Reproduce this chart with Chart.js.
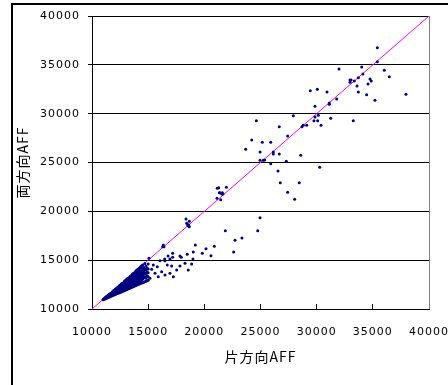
<!DOCTYPE html>
<html><head><meta charset="utf-8">
<script src="https://cdn.jsdelivr.net/npm/chart.js@4"></script>
<style>
html,body{margin:0;padding:0;background:#fff;overflow:hidden;width:448px;height:385px;}
#frame{position:absolute;left:11px;top:3px;width:480px;height:420px;border:2px solid #000;box-sizing:border-box;}
#wrap{position:absolute;left:0;top:0;width:448px;height:385px;}
</style></head><body>
<div id="frame"></div>
<div id="wrap"><canvas id="c" width="448" height="385"></canvas></div>
<script>
// Axis range / ticks
const axisMin = 10000;
const axisMax = 40000;
const tickStep = 5000;
const xTitle = '片方向AFF';
const yTitle = '両方向AFF';

// Reference line y = x
const diagonalLine = [[10000, 10000], [40000, 40000]];

// Sparse points (片方向AFF, 両方向AFF)
const sparsePoints = [
  [35400,36750],[35400,35320],[34010,34780],[31990,34570],[36020,34440],[34120,34060],
  [33710,33680],[36470,33790],[34750,33550],[34860,33350],[32970,33450],[33060,33450],
  [32970,33210],[33350,33350],[34570,33040],[33590,32830],[29430,32350],[30060,32500],
  [30920,32220],[33710,32220],[34450,31940],[37950,31980],[31780,31500],[35190,31370],
  [31120,31090],[31120,30960],[29850,30750],[30150,29830],[29850,29660],[31250,29530],
  [29760,29280],[30090,29280],[33260,29280],[27920,29790],[24630,29280],[28810,28810],
  [28690,28670],[29110,28810],[30390,28810],[26670,28670],[27420,27710],[24220,27300],
  [25160,27070],[25910,27070],[23680,26350],[24960,26080],[26140,26080],[26140,25870],
  [26670,25870],[28580,25740],[24960,25230],[25250,25230],[25370,25260],[27300,25120],
  [25910,24880],[30270,24510],[26560,24130],[26760,22930],[28450,22930],[27420,21950],
  [28040,21230],[24960,19350],[24750,18020],[23350,17270],[22730,17030],[22610,15840],
  [21870,18020],[21280,22420],[21150,22360],[21960,22460],[21390,21910],[21600,21910],
  [21330,21910],[21550,21780],[21660,21780],[21130,21330],[21460,21190],[18370,19220],
  [18660,18980],[18430,18770],[18610,18600],[18660,18430],[18550,18530],[18500,18650],
  [20890,16420],[20150,16170],[19200,16550],[19020,15840],[19820,15700],[20590,15460],
  [16350,16550],[16410,16380],[16290,16380],[17180,15700],[17180,15290],[16770,15430],
  [17830,15430],[17950,15290],[18480,15600],[18990,15120],[16470,15120],[16940,15120],
  [15070,15190],[18280,14680],[18870,14610],[17830,14400],[17090,14400],[18570,13990],
  [17540,13990],[16700,14500],[16500,14950],[16050,14950],[15810,14330],[16200,13820],
  [16940,13660],[17240,13310],[16500,13480],[15610,13660],[15310,14060],[15460,14510],
  [15900,13310],[15160,13140]
];

// Dense cluster near the origin: 片方向AFF of each column, and the 両方向AFF values read in it
const clusterX = [
  11000,11100,11200,11300,11400,11500,11600,11700,11800,11900,
  12000,12100,12200,12300,12400,12500,12600,12700,12800,12900,
  13000,13100,13200,13300,13400,13500,13600,13700,13800,13900,
  14000,14100,14200,14300,14400,14500,14600,14700,14800,14900,15000
];
const clusterY = [
  [10950,11000],
  [11000,11100],
  [11050,11150,11200],
  [11100,11200,11300],
  [11150,11250,11350],
  [11200,11300,11400,11480],
  [11250,11350,11450,11560],
  [11300,11400,11500,11620],
  [11350,11450,11550,11650,11750],
  [11400,11520,11640,11760,11860],
  [11450,11570,11690,11810,11940],
  [11500,11620,11740,11860,11980,12060],
  [11550,11670,11790,11910,12030,12150],
  [11600,11720,11840,11960,12080,12220],
  [11650,11770,11890,12010,12130,12250,12350],
  [11700,11820,11940,12060,12180,12300,12440],
  [11750,11870,11990,12110,12230,12350,12470,12560],
  [11800,11920,12040,12160,12280,12400,12520,12640],
  [11850,11970,12090,12210,12330,12450,12570,12700],
  [11900,12020,12140,12260,12380,12500,12620,12740,12860],
  [11950,12070,12190,12310,12430,12550,12670,12790,12940],
  [12000,12120,12240,12360,12480,12600,12720,12840,12960,13060],
  [12050,12170,12290,12410,12530,12650,12770,12890,13010,13150],
  [12100,12220,12340,12460,12580,12700,12820,12940,13060,13200],
  [12150,12270,12390,12510,12630,12750,12870,12990,13110,13230,13350],
  [12200,12320,12440,12560,12680,12800,12920,13040,13160,13280,13420],
  [12250,12400,12550,12700,12850,13000,13150,13300,13450,13580],
  [12300,12450,12600,12750,12900,13050,13200,13350,13500,13650],
  [12350,12500,12650,12800,12950,13100,13250,13400,13550,13720],
  [12400,12550,12700,12850,13000,13150,13300,13450,13600,13750,13880],
  [12450,12600,12750,12900,13050,13250,13450,13650,13850,14000],
  [12500,12700,12900,13100,13300,13500,13700,13900,14080],
  [12550,12800,13000,13200,13450,13700,13950,14180],
  [12600,12850,13150,13400,13650,13900,14300],
  [12650,12950,13300,13600,13850,14150,14400],
  [12700,13050,13400,13750,14050,14500],
  [12750,13200,13550,13900,14250],
  [12800,13300,13700,14100,14650],
  [12850,13150,13600,14000,14400],
  [12900,13400,13800,14200],
  [12950,13300,13700,14100,14600]
];

const toXY = arr => arr.map(p => ({x: p[0], y: p[1]}));
const clusterPoints = [];
clusterX.forEach((x, i) => clusterY[i].forEach(y => clusterPoints.push({x: x, y: y})));
const plainTick = v => String(v);

const chartAreaBorder = {
  id: 'chartAreaBorder',
  beforeDraw(chart) { chart.ctx.letterSpacing = '1px'; },
  afterDraw(chart) {
    const {ctx, chartArea: a} = chart;
    ctx.save();
    ctx.strokeStyle = '#808080';
    ctx.lineWidth = 1;
    ctx.beginPath();
    ctx.moveTo(Math.round(a.right) + 0.5, a.top);
    ctx.lineTo(Math.round(a.right) + 0.5, a.bottom);
    ctx.stroke();
    ctx.restore();
  }
};

new Chart(document.getElementById('c'), {
  type: 'scatter',
  data: {
    datasets: [
      {
        label: 'data',
        type: 'scatter',
        showLine: false,
        data: toXY(sparsePoints).concat(clusterPoints),
        backgroundColor: '#000080',
        borderColor: '#000080',
        borderWidth: 0,
        pointRadius: 1.5,
        pointHoverRadius: 1.5,
        order: 0
      },
      {
        label: 'y=x',
        type: 'line',
        data: toXY(diagonalLine),
        borderColor: '#ff00ff',
        borderWidth: 1,
        pointRadius: 0,
        fill: false,
        order: 1
      }
    ]
  },
  options: {
    responsive: false,
    animation: false,
    devicePixelRatio: 1,
    layout: { padding: { left: 0, top: 16, right: 19, bottom: 0 } },
    plugins: { legend: { display: false }, tooltip: { enabled: false } },
    scales: {
      x: {
        type: 'linear',
        min: axisMin, max: axisMax,
        ticks: { stepSize: tickStep, callback: plainTick, color: '#000', font: { family: 'DejaVu Sans', size: 11 }, padding: 22, maxRotation: 0, autoSkip: false },
        grid: { drawOnChartArea: false, drawTicks: true, tickLength: -5, color: '#000' },
        border: { color: '#000', width: 1 },
        title: { display: true, text: xTitle, color: '#000', font: { family: 'Noto Sans CJK JP', size: 14 }, padding: { top: 0, bottom: 20 } },
        afterFit(s) { s.height = 76; s.paddingLeft = 0; s.paddingRight = 0; }
      },
      y: {
        type: 'linear',
        min: axisMin, max: axisMax,
        ticks: { stepSize: tickStep, callback: plainTick, color: '#000', font: { family: 'DejaVu Sans', size: 11 }, padding: 8 },
        grid: { color: '#000', tickLength: 4 },
        border: { color: '#000', width: 1 },
        title: { display: true, text: yTitle, color: '#000', font: { family: 'Noto Sans CJK JP', size: 14 }, padding: { top: 14, bottom: 0 } },
        afterFit(s) { s.width = 92; s.paddingTop = 0; s.paddingBottom = 0; }
      }
    }
  },
  plugins: [chartAreaBorder]
});
</script>
</body></html>
